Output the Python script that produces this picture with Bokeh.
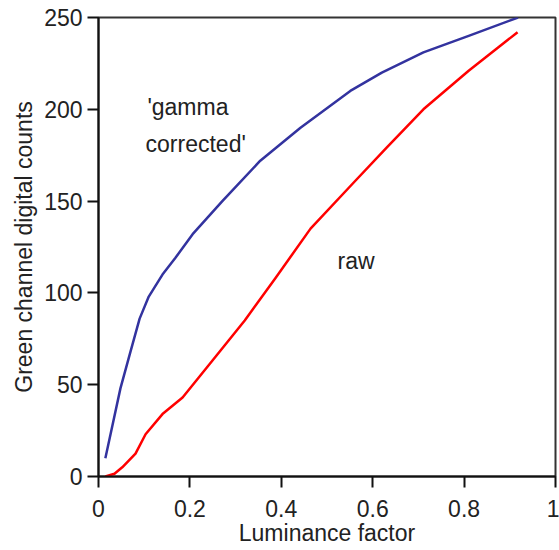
from bokeh.plotting import figure
from bokeh.models import Range1d, FixedTicker, CustomJSTickFormatter, ColumnDataSource
from bokeh.core.properties import value
from bokeh.embed import file_html
from bokeh.resources import INLINE

# Data
lum_gamma = [0.015, 0.048, 0.070, 0.090, 0.110, 0.140, 0.168, 0.206, 0.271, 0.354, 0.442, 0.551, 0.62, 0.711, 0.81, 0.918]
counts_gamma = [10, 48, 68, 86, 98, 110, 119, 132, 150, 172, 190, 210, 220, 231, 240, 250]

lum_raw = [0.015, 0.035, 0.052, 0.081, 0.103, 0.14, 0.184, 0.249, 0.32, 0.387, 0.464, 0.558, 0.63, 0.711, 0.81, 0.917]
counts_raw = [0, 1.5, 5, 12.5, 23, 34, 43, 63, 85, 108, 135, 160, 179, 200, 221, 242]

x_ticks = [0, 0.2, 0.4, 0.6, 0.8, 1]
y_ticks = [0, 50, 100, 150, 200, 250]

label_text = ["'gamma", "corrected'", "raw"]
label_x = [0.107, 0.103, 0.523]
label_y = [201, 181, 117.6]

FONT = "Liberation Sans"
FS = "23px"

p = figure(width=559, height=550, output_backend="svg", toolbar_location=None,
           x_range=Range1d(0, 1), y_range=Range1d(0, 250),
           min_border_left=98, min_border_right=4, min_border_top=17, min_border_bottom=74)
p.grid.visible = False
p.background_fill_color = "white"
p.border_fill_color = "white"
p.outline_line_color = "#333333"
p.outline_line_width = 2

p.line(lum_gamma, counts_gamma, line_color="#33339f", line_width=2.5, line_join="round")
p.line(lum_raw, counts_raw, line_color="#ff0000", line_width=2.5, line_join="round")

src = ColumnDataSource(dict(x=label_x, y=label_y, t=label_text))
p.text(x="x", y="y", text="t", source=src, text_font=value(FONT), text_font_size=FS,
       text_color="#222222", text_baseline="middle", text_align="left")

p.xaxis.ticker = FixedTicker(ticks=x_ticks)
p.yaxis.ticker = FixedTicker(ticks=y_ticks)
p.xaxis.formatter = CustomJSTickFormatter(code="return tick.toFixed(1).replace(/\\.0$/, '');")
p.yaxis.formatter = CustomJSTickFormatter(code="return tick.toFixed(0);")

for ax in (p.xaxis, p.yaxis):
    ax.axis_line_width = 2
    ax.axis_line_color = "#111111"
    ax.major_tick_line_width = 2
    ax.major_tick_line_color = "#111111"
    ax.major_tick_out = 11
    ax.major_tick_in = 0
    ax.minor_tick_line_color = None
    ax.major_label_text_font = FONT
    ax.major_label_text_font_size = FS
    ax.major_label_text_color = "#222222"
    ax.axis_label_text_font = FONT
    ax.axis_label_text_font_size = FS
    ax.axis_label_text_font_style = "normal"
    ax.axis_label_text_color = "#222222"

p.xaxis.axis_label = "Luminance factor"
p.yaxis.axis_label = "Green channel digital counts"
p.xaxis.major_label_standoff = 12
p.yaxis.major_label_standoff = 5
p.xaxis.axis_label_standoff = 0
p.yaxis.axis_label_standoff = 4

open("out.html", "w").write(file_html(p, INLINE))
